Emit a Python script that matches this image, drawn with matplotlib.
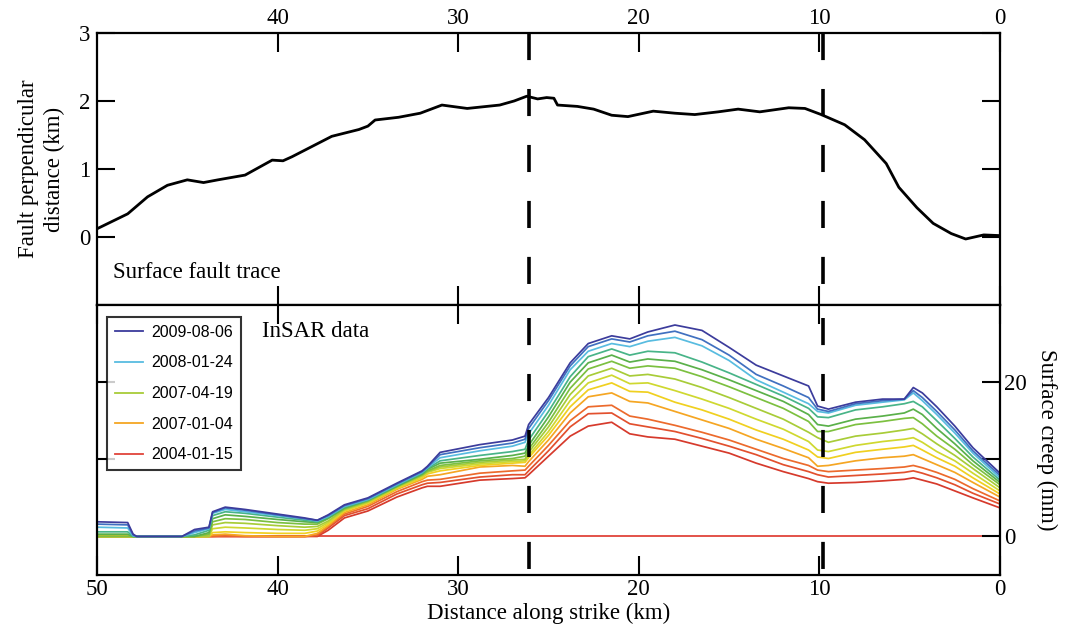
import matplotlib
matplotlib.use("Agg")
import matplotlib.pyplot as plt
from matplotlib.lines import Line2D

plt.rcParams.update({
    "font.family": "Liberation Serif",
    "font.size": 16.5,
    "axes.linewidth": 1.6,
})

# ---- surface fault trace (top panel) ----
trace_x = [50, 48.3, 47.2, 46.1, 45.0, 44.1, 43.3, 41.8, 40.3, 39.7, 39.2, 38.1, 37.0,
           35.5, 35.0, 34.6, 33.3, 32.1, 30.9, 29.5, 27.7, 26.9, 26.2, 25.6, 25.1, 24.7,
           24.5, 23.4, 22.5, 21.5, 20.6, 19.2, 18.0, 16.9, 15.6, 14.5, 13.3, 11.7, 10.8,
           9.9, 8.6, 7.5, 6.3, 5.6, 4.6, 3.7, 2.7, 1.9, 0.9, 0]
trace_y = [0.12, 0.34, 0.59, 0.76, 0.84, 0.80, 0.84, 0.91, 1.13, 1.12, 1.18, 1.33, 1.48,
           1.58, 1.63, 1.72, 1.76, 1.82, 1.94, 1.89, 1.94, 2.00, 2.07, 2.03, 2.05, 2.04,
           1.94, 1.92, 1.88, 1.79, 1.77, 1.85, 1.82, 1.80, 1.84, 1.88, 1.84, 1.90, 1.89,
           1.80, 1.65, 1.43, 1.08, 0.73, 0.43, 0.20, 0.05, -0.03, 0.03, 0.02]

# ---- InSAR creep profiles (bottom panel), lowest to highest ----
creep_x = [50, 48.3, 48.0, 47.8, 45.3, 44.6, 43.8, 43.6, 42.9, 41.8, 40.0, 38.5,
           37.8, 37.2, 36.3, 35.0, 33.4, 32.0, 31.7, 31.0, 28.8, 27.0, 26.3, 26.1,
           25.0, 23.8, 22.8, 21.5, 20.5, 19.5, 18.0, 16.5, 15.0, 13.5, 12.0, 10.6,
           10.1, 9.5, 8.0, 6.5, 5.3, 4.8, 4.3, 3.5, 2.5, 1.5, 0]

creep_00 = [0, 0, 0, 0, 0, 0, 0, 0, 0, 0, 0, 0,
            0, 0.8, 2.4, 3.3, 5.1, 6.3, 6.5, 6.5, 7.3, 7.5, 7.6, 8.0,
            10.4, 13.0, 14.3, 14.8, 13.3, 12.9, 12.6, 11.7, 10.8, 9.5, 8.4, 7.5,
            7.1, 6.9, 7.0, 7.2, 7.4, 7.6, 7.3, 6.8, 5.9, 5.0, 3.7]
creep_01 = [0, 0, 0, 0, 0, 0, 0, 0, 0, 0, 0, 0,
            0.1, 1.1, 2.7, 3.6, 5.5, 6.7, 6.9, 7.0, 7.7, 8.0, 8.0, 8.5,
            11.1, 14.2, 15.9, 16.0, 14.6, 14.2, 13.6, 12.7, 11.7, 10.6, 9.3, 8.4,
            8.0, 7.7, 7.9, 8.1, 8.3, 8.5, 8.2, 7.6, 6.7, 5.6, 4.2]
creep_02 = [0, 0, 0, 0, 0, 0, 0, 0, 0.1, 0, 0, 0,
            0.2, 1.3, 2.9, 3.9, 5.8, 7.1, 7.3, 7.4, 8.2, 8.5, 8.6, 9.1,
            11.8, 15.0, 16.8, 17.0, 15.6, 15.2, 14.4, 13.5, 12.5, 11.3, 10.1, 9.2,
            8.6, 8.4, 8.6, 8.8, 9.0, 9.2, 8.9, 8.3, 7.4, 6.2, 4.6]
creep_03 = [0, 0, 0, 0, 0, 0, 0, 0.2, 0.3, 0.1, 0, 0,
            0.4, 1.4, 3.1, 4.1, 6.1, 7.4, 7.8, 8.0, 9.0, 9.2, 9.1, 9.7,
            12.5, 16.0, 18.1, 18.6, 17.5, 17.3, 16.2, 15.1, 14.0, 12.6, 11.4, 10.2,
            9.1, 9.2, 9.8, 10.2, 10.4, 10.6, 10.1, 9.3, 8.3, 7.0, 5.1]
creep_04 = [0, 0, 0, 0, 0, 0, 0, 0.5, 0.6, 0.5, 0.4, 0.4,
            0.7, 1.6, 3.3, 4.3, 6.2, 7.6, 8.1, 8.5, 9.2, 9.5, 9.6, 10.2,
            13.1, 16.8, 19.0, 19.9, 18.8, 18.7, 17.4, 16.4, 15.2, 13.8, 12.6, 11.2,
            10.3, 10.1, 10.9, 11.3, 11.6, 11.8, 11.2, 10.2, 9.1, 7.6, 5.5]
creep_05 = [0, 0, 0, 0, 0, 0, 0, 1.0, 1.2, 1.1, 0.9, 0.8,
            1.0, 1.8, 3.4, 4.4, 6.3, 7.8, 8.3, 8.8, 9.4, 9.7, 9.8, 10.5,
            13.6, 17.6, 19.9, 20.9, 19.8, 19.9, 18.9, 17.8, 16.6, 15.2, 13.9, 12.3,
            11.2, 11.0, 11.8, 12.3, 12.6, 12.8, 12.2, 11.0, 9.8, 8.2, 5.9]
creep_06 = [0, 0, 0, 0, 0, 0, 0, 1.5, 1.8, 1.7, 1.4, 1.2,
            1.3, 2.0, 3.5, 4.5, 6.4, 7.9, 8.4, 9.0, 9.6, 9.9, 10.0, 10.9,
            14.2, 18.4, 20.8, 21.8, 20.8, 21.0, 20.4, 19.3, 18.0, 16.6, 15.2, 13.5,
            12.8, 12.2, 13.0, 13.4, 13.8, 14.0, 13.3, 12.0, 10.5, 8.8, 6.3]
creep_07 = [0, 0, 0, 0, 0, 0, 0.3, 1.9, 2.3, 2.2, 1.8, 1.6,
            1.6, 2.3, 3.6, 4.6, 6.5, 8.0, 8.5, 9.2, 9.8, 10.1, 10.4, 11.3,
            14.8, 19.2, 21.7, 22.7, 21.8, 22.1, 21.8, 20.7, 19.4, 18.0, 16.6, 14.9,
            13.6, 13.6, 14.5, 14.9, 15.3, 15.4, 14.6, 13.0, 11.3, 9.3, 6.7]
creep_08 = [0.3, 0.3, 0, 0, 0, 0, 0.5, 2.3, 2.8, 2.6, 2.2, 1.9,
            1.8, 2.4, 3.7, 4.7, 6.5, 8.1, 8.7, 9.5, 10.0, 10.5, 10.8, 11.8,
            15.5, 20.0, 22.5, 23.5, 22.6, 23.0, 22.7, 21.6, 20.3, 18.9, 17.5, 15.8,
            14.5, 14.3, 15.2, 15.6, 16.0, 16.5, 15.8, 14.0, 12.0, 9.8, 7.0]
creep_09 = [0.6, 0.6, 0, 0, 0, 0.2, 0.8, 2.7, 3.2, 3.0, 2.5, 2.1,
            1.9, 2.5, 3.8, 4.7, 6.6, 8.2, 8.8, 9.8, 10.5, 11.0, 11.3, 12.5,
            16.2, 20.7, 23.3, 24.3, 23.5, 24.0, 23.8, 22.6, 21.2, 19.7, 18.2, 16.6,
            15.5, 15.4, 16.4, 16.8, 17.2, 17.5, 16.8, 15.0, 12.7, 10.3, 7.3]
creep_10 = [1.2, 1.1, 0.1, 0, 0, 0.5, 1.0, 3.0, 3.5, 3.2, 2.7, 2.3,
            2.0, 2.6, 3.9, 4.8, 6.7, 8.3, 8.9, 10.2, 11.1, 11.7, 12.2, 13.3,
            17.0, 21.6, 24.0, 25.0, 24.6, 25.3, 25.8, 24.7, 22.8, 20.3, 18.7, 17.2,
            16.2, 16.0, 17.0, 17.4, 17.7, 18.6, 17.6, 15.8, 13.4, 10.8, 7.6]
creep_11 = [1.6, 1.5, 0.2, 0, 0, 0.7, 1.1, 3.1, 3.7, 3.4, 2.8, 2.3,
            2.1, 2.7, 4.0, 4.9, 6.8, 8.4, 9.0, 10.6, 11.5, 12.1, 12.6, 14.0,
            17.6, 22.1, 24.6, 25.6, 25.2, 26.0, 26.6, 25.5, 23.5, 21.0, 19.5, 18.0,
            16.5, 16.2, 17.2, 17.6, 17.8, 18.9, 18.0, 16.2, 13.8, 11.1, 7.9]
creep_12 = [1.9, 1.8, 0.3, 0, 0, 0.9, 1.2, 3.2, 3.8, 3.5, 2.9, 2.4,
            2.1, 2.8, 4.1, 5.0, 6.9, 8.5, 9.1, 10.9, 11.9, 12.5, 13.0, 14.5,
            18.0, 22.5, 25.0, 26.0, 25.6, 26.5, 27.4, 26.7, 24.5, 22.2, 20.8, 19.5,
            16.9, 16.5, 17.4, 17.8, 17.8, 19.3, 18.6, 16.8, 14.3, 11.5, 8.2]

creep_series = [creep_00, creep_01, creep_02, creep_03, creep_04, creep_05, creep_06,
                creep_07, creep_08, creep_09, creep_10, creep_11, creep_12]
creep_colors = ["#d63a2c", "#e2502e", "#ec6a2c", "#f5a623", "#f0d020", "#cfd830",
                "#a8cc38", "#7cc040", "#5ab04a", "#48b488", "#58bce0", "#4070c0",
                "#3c3c9c"]

legend_dates = ["2009-08-06", "2008-01-24", "2007-04-19", "2007-01-04", "2004-01-15"]
legend_colors = ["#3c3c9c", "#58bce0", "#a8cc38", "#f5a623", "#e0443a"]

fault_marks = [26.1, 9.8]

fig = plt.figure(figsize=(10.67, 6.34), dpi=100)
ax1 = fig.add_axes([0.0909, 0.519, 0.8463, 0.429])
ax2 = fig.add_axes([0.0909, 0.093, 0.8463, 0.426])

# top panel
ax1.plot(trace_x, trace_y, color="black", lw=2.0, zorder=3)
ax1.set_xlim(50, 0)
ax1.set_ylim(-1, 3)
ax1.set_xticks([40, 30, 20, 10, 0])
ax1.set_yticks([0, 1, 2, 3])
ax1.tick_params(axis="x", direction="in", top=True, bottom=True,
                labeltop=True, labelbottom=False, length=14, width=1.5, pad=3)
ax1.tick_params(axis="y", direction="in", left=True, right=True,
                labelleft=True, labelright=False, length=13, width=1.5, pad=5)
ax1.set_ylabel("Fault perpendicular\ndistance (km)", labelpad=10, linespacing=1.3)
ax1.text(0.018, 0.118, "Surface fault trace", transform=ax1.transAxes,
         ha="left", va="center")

# bottom panel
ax2.axhline(0, color="#e0443a", lw=1.3, zorder=1)
for vals, col in zip(creep_series, creep_colors):
    ax2.plot(creep_x, vals, color=col, lw=1.25, zorder=2)
ax2.set_xlim(50, 0)
ax2.set_ylim(-5, 30)
ax2.set_xticks([50, 40, 30, 20, 10, 0])
ax2.set_yticks([0, 10, 20])
ax2.set_yticklabels(["0", "", "20"])
ax2.tick_params(axis="x", direction="in", top=True, bottom=True,
                labeltop=False, labelbottom=True, length=14, width=1.5, pad=3)
ax2.tick_params(axis="y", direction="in", left=True, right=True,
                labelleft=False, labelright=True, length=13, width=1.5, pad=3)
ax2.yaxis.set_label_position("right")
ax2.set_ylabel("Surface creep (mm)", rotation=270, labelpad=22)
ax2.set_xlabel("Distance along strike (km)", labelpad=2)
ax2.text(0.183, 0.90, "InSAR data", transform=ax2.transAxes,
         ha="left", va="center")

handles = [Line2D([], [], color=c, lw=1.3) for c in legend_colors]
leg = ax2.legend(handles, legend_dates, loc="upper left",
                 bbox_to_anchor=(0.011, 0.956), borderaxespad=0,
                 prop={"family": "Liberation Sans", "size": 11.5},
                 frameon=True, fancybox=False, edgecolor="black",
                 handlelength=1.75, handletextpad=0.5, labelspacing=0.98,
                 borderpad=0.5)
leg.get_frame().set_linewidth(1.5)

# dashed markers, dash pattern starting from the top of each panel
for ax, off in ((ax1, 0.0), (ax2, 11.9)):
    for xm in fault_marks:
        ax.plot([xm, xm], [1, 0], transform=ax.get_xaxis_transform(),
                color="black", lw=2.6, linestyle=(off, (7.5, 8)), zorder=4)

fig.savefig("out.png", dpi=100)
